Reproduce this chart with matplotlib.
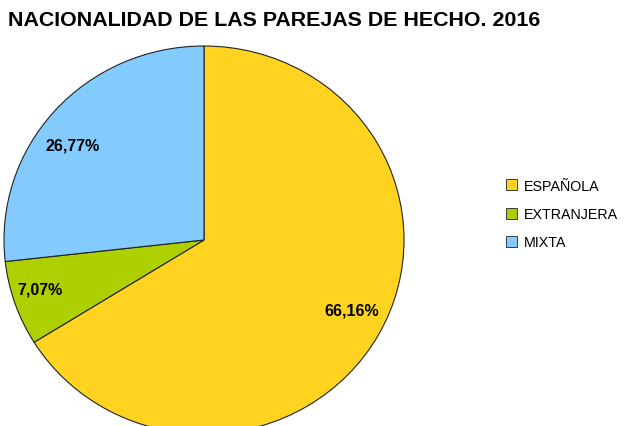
import numpy as np
import matplotlib.pyplot as plt
from matplotlib.patches import Patch

plt.rcParams['font.family'] = ['Liberation Sans', 'DejaVu Sans']

categorias = ["ESPAÑOLA", "EXTRANJERA", "MIXTA"]
porcentajes = [66.16, 7.07, 26.77]
colores = ["#FFD320", "#AECF00", "#83CAFF"]

fig = plt.figure(figsize=(6.28, 4.27), dpi=100)

# pie centre at ~(204, 241) px, slightly wider than tall like the source
rx, ry = 200, 194
ax = fig.add_axes([(204 - rx) / 628, (427 - 241 - ry) / 427, 2 * rx / 628, 2 * ry / 427])

wedges, textos, autotextos = ax.pie(
    porcentajes, colors=colores, startangle=90, counterclock=False,
    autopct=lambda p: f"{p:.2f}%".replace(".", ","), pctdistance=0.82,
    wedgeprops=dict(edgecolor="#222222", linewidth=0.8),
    textprops=dict(fontsize=11.5, fontweight="bold", color="black"))

# nudge the labels a little toward where the original puts them
ajustes = [(3, 0.82), (-2, 0.86), (5, 0.82)]
for w, t, (da, d) in zip(wedges, autotextos, ajustes):
    ang = np.deg2rad((w.theta1 + w.theta2) / 2 + da)
    t.set_position((d * np.cos(ang), d * np.sin(ang)))

ax.set_aspect("auto")
ax.set_xlim(-1, 1)
ax.set_ylim(-1, 1)

fig.text(8 / 628, 1 - 20 / 427, "NACIONALIDAD DE LAS PAREJAS DE HECHO. 2016",
         fontsize=15.4, fontweight="bold", va="center", ha="left")

handles = [Patch(facecolor=c, edgecolor="#222222", linewidth=0.6) for c in colores]
fig.legend(handles, categorias, loc="center left", bbox_to_anchor=(506 / 628, 1 - 215 / 427),
           frameon=False, fontsize=10.3, handlelength=0.8, handleheight=0.8,
           handletextpad=0.45, labelspacing=1.0, borderaxespad=0, borderpad=0)

fig.savefig("out.png", dpi=100)
